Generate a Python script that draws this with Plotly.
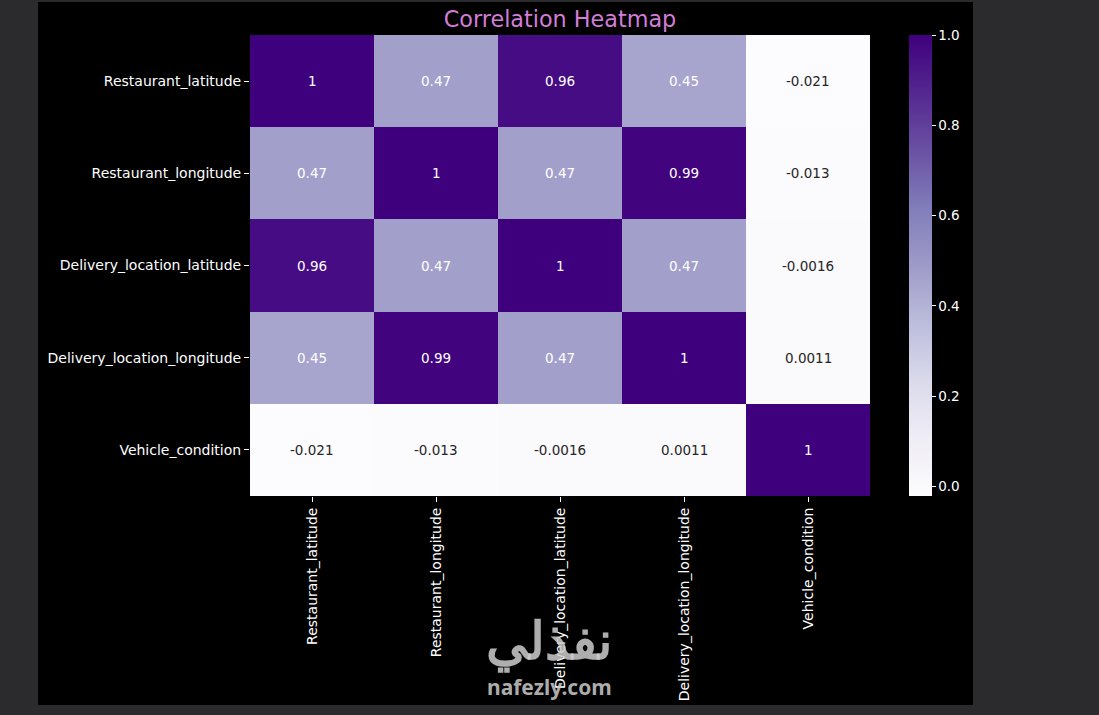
import plotly.graph_objects as go

labels = ["Restaurant_latitude", "Restaurant_longitude", "Delivery_location_latitude",
          "Delivery_location_longitude", "Vehicle_condition"]

row_rest_lat = [1.0, 0.47, 0.96, 0.45, -0.021]
row_rest_lon = [0.47, 1.0, 0.47, 0.99, -0.013]
row_del_lat = [0.96, 0.47, 1.0, 0.47, -0.0016]
row_del_lon = [0.45, 0.99, 0.47, 1.0, 0.0011]
row_vehicle = [-0.021, -0.013, -0.0016, 0.0011, 1.0]

z = [row_rest_lat, row_rest_lon, row_del_lat, row_del_lon, row_vehicle]

cbar_ticks = [0.0, 0.2, 0.4, 0.6, 0.8, 1.0]

W, H = 1099, 715
L, R, T, B = 250, 870, 35, 496
pw, ph = R - L, B - T

def px_x(p):
    return (p - L) / pw

def px_y(p):
    return (B - p) / ph

font = "DejaVu Sans"

fig = go.Figure()
fig.add_trace(go.Heatmap(
    z=z, x=labels, y=labels,
    colorscale="Purples", zmin=min(min(r) for r in z), zmax=1.0,
    xgap=0, ygap=0,
    colorbar=dict(
        x=px_x(909), xanchor="left", xref="paper",
        y=0, yanchor="bottom", len=1, lenmode="fraction",
        thickness=23, thicknessmode="pixels",
        xpad=0, ypad=0,
        outlinewidth=0,
        tickvals=cbar_ticks, ticktext=[f"{v:.1f}" for v in cbar_ticks],
        ticks="outside", ticklen=4, tickcolor="white",
        tickfont=dict(color="white", size=13.5, family=font),
    ),
    hoverongaps=False,
))

annotations = []
for i, row in enumerate(z):
    for j, v in enumerate(row):
        annotations.append(dict(
            x=labels[j], y=labels[i], xref="x", yref="y",
            text=f"{v:.2g}", showarrow=False,
            font=dict(color="white" if v > 0.4 else "#262626", size=13.5, family=font),
        ))

annotations.append(dict(
    x=px_x(549), y=px_y(676), xref="paper", yref="paper", yanchor="bottom",
    text="<b>نفذلي</b>", showarrow=False,
    font=dict(color="rgba(205,205,205,0.85)", size=52, family="Noto Sans"),
))
annotations.append(dict(
    x=px_x(549), y=px_y(703), xref="paper", yref="paper",
    text="<b>nafezly.com</b>", showarrow=False,
    font=dict(color="rgba(205,205,205,0.85)", size=21, family="Noto Sans"),
))

fig.update_layout(
    width=W, height=H,
    margin=dict(l=L, r=W - R, t=T, b=H - B, pad=0),
    paper_bgcolor="#2b2b2d",
    plot_bgcolor="black",
    title=dict(text="Correlation Heatmap", x=px_x(560), xref="paper", xanchor="center",
               y=1 - 19 / H, yanchor="middle",
               font=dict(color="#d27dd8", size=22.3, family=font)),
    xaxis=dict(tickangle=-90, ticks="outside", ticklen=5, tickcolor="white",
               tickfont=dict(color="white", size=14, family=font),
               showgrid=False, zeroline=False, showline=False),
    yaxis=dict(autorange="reversed", ticks="outside", ticklen=5, tickcolor="white",
               tickfont=dict(color="white", size=14, family=font),
               showgrid=False, zeroline=False, showline=False),
    annotations=annotations,
    shapes=[dict(type="rect", xref="paper", yref="paper",
                 x0=px_x(38), x1=px_x(973), y0=px_y(705), y1=px_y(2),
                 fillcolor="black", line=dict(width=0), layer="below")],
)

fig.write_html(
    "out.html",
    config={"displayModeBar": False},
    post_script="document.body.style.margin='0';document.body.style.overflow='hidden';"
                "document.body.style.background='#2b2b2d';",
)
